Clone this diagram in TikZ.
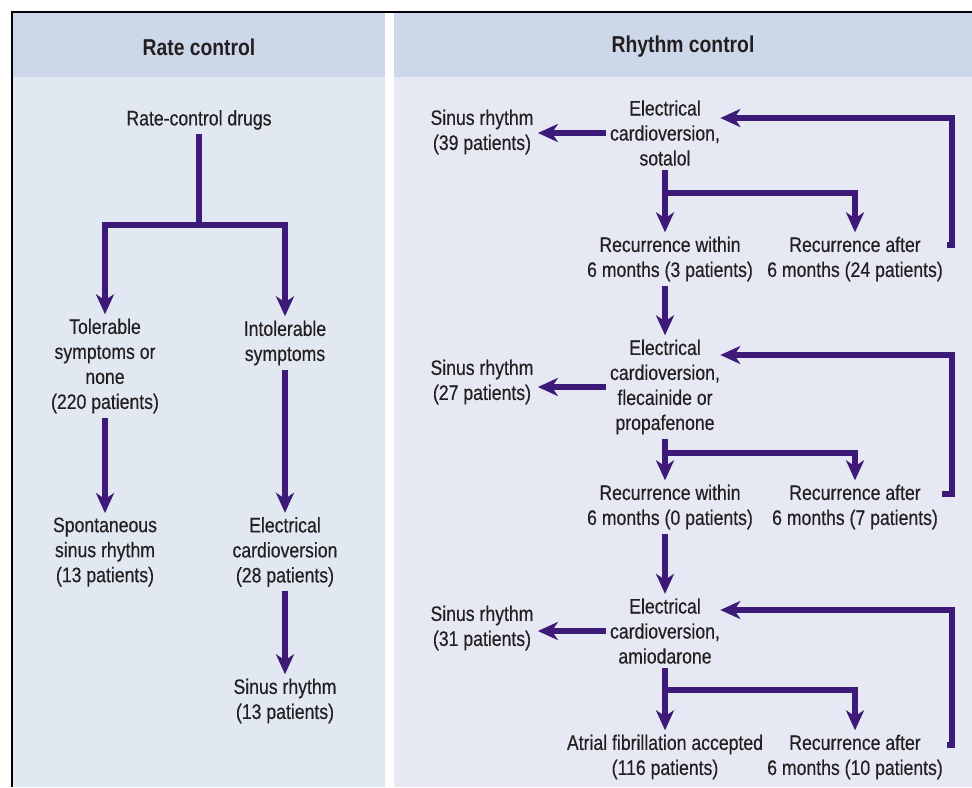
\documentclass[tikz,border=0pt]{standalone}
\usepackage{fontspec}
\setmainfont[FakeStretch=0.84,UprightFeatures={FakeBold=0.35}]{Liberation Sans}
\usetikzlibrary{arrows.meta}
\definecolor{flowpurple}{HTML}{3D1A78}
\definecolor{headblue}{HTML}{CCD7E9}
\definecolor{leftbg}{HTML}{E2E8F1}
\definecolor{rightbg}{HTML}{E6E9F3}
\definecolor{txtgrey}{HTML}{231F20}
\tikzset{
  box/.style={
    align=center,
    inner sep=2pt,
    text=txtgrey,
    font=\fontsize{10.5}{12.5}\selectfont
  },
  head/.style={
    text=txtgrey,
    font=\fontsize{11.5}{13}\selectfont\bfseries
  },
  link/.style={
    draw=flowpurple,
    line width=2.6pt
  },
  flow/.style={
    link,
    -{Stealth[length=10pt,width=9pt,inset=3pt]}
  }
}

\begin{document}
\begin{tikzpicture}[x=0.5pt,y=-0.5pt]
  \useasboundingbox (0,0) rectangle (972,787);
  % panels
  \fill[leftbg] (12,12) rectangle (385,787);
  \fill[rightbg] (394,12) rectangle (972,787);
  \fill[headblue] (12,12) rectangle (385,77);
  \fill[headblue] (394,12) rectangle (972,77);
  \draw[line width=1.4pt] (12,787) -- (12,12) -- (972,12);
  \node[head] (hrate) at (199,47) {Rate control};
  \node[head] (hrhythm) at (683,47) {Rhythm control};

  % rate control
  \node[box] (rcd) at (199,120) {Rate-control drugs};
  \node[box] (tol) at (105,366) {Tolerable\\symptoms or\\none\\(220 patients)};
  \node[box] (intol) at (285,343) {Intolerable\\symptoms};
  \node[box] (spont) at (105,552) {Spontaneous\\sinus rhythm\\(13 patients)};
  \node[box] (ecv) at (285,552) {Electrical\\cardioversion\\(28 patients)};
  \node[box] (sinL) at (285,701) {Sinus rhythm\\(13 patients)};
  \coordinate (j0) at (199,225);
  \draw[link] (rcd) -- (j0);
  \draw[flow] (j0) -| (tol);
  \draw[flow] (j0) -| (intol);
  \draw[flow] (tol) -- (spont);
  \draw[flow] (intol) -- (ecv);
  \draw[flow] (ecv) -- (sinL);

  % rhythm control
  \node[box] (ec1) at (665,133) {Electrical\\cardioversion,\\sotalol};
  \node[box] (sr1) at (482,132) {Sinus rhythm\\(39 patients)};
  \node[box] (rw1) at (670,259) {Recurrence within\\6 months (3 patients)};
  \node[box] (ra1) at (855,259) {Recurrence after\\6 months (24 patients)};
  \node[box] (ec2) at (665,387) {Electrical\\cardioversion,\\flecainide or\\propafenone};
  \node[box] (sr2) at (482,382) {Sinus rhythm\\(27 patients)};
  \node[box] (rw2) at (670,507) {Recurrence within\\6 months (0 patients)};
  \node[box] (ra2) at (855,507) {Recurrence after\\6 months (7 patients)};
  \node[box] (ec3) at (665,631) {Electrical\\cardioversion,\\amiodarone};
  \node[box] (sr3) at (482,628) {Sinus rhythm\\(31 patients)};
  \node[box] (afa) at (665,757) {Atrial fibrillation accepted\\(116 patients)};
  \node[box] (ra3) at (855,757) {Recurrence after\\6 months (10 patients)};

  \foreach \ec/\sr/\lo/\ra/\yb/\ys/\ye in {ec1/sr1/rw1/ra1/193/245/118,
      ec2/sr2/rw2/ra2/453/494/355, ec3/sr3/afa/ra3/690/745/610}{
    \coordinate (b\ec) at (665,\yb);
    \coordinate (k\ec) at (952,\ys);
    \draw[flow] (\ec.west) -- (\ec.west -| \sr.east);
    \draw[link] (\ec) -- (b\ec);
    \draw[flow] (b\ec) -- (b\ec |- \lo.north);
    \draw[flow] (b\ec) -| (\ra);
    \draw[flow,shorten >=-2pt] (\ra.east |- k\ec) -- (k\ec) |- (\ec.east |- 0,\ye);
  }
  \draw[flow] (rw1.south -| ec2.north) -- (ec2.north);
  \draw[flow] (rw2.south -| ec3.north) -- (ec3.north);
\end{tikzpicture}
\end{document}
